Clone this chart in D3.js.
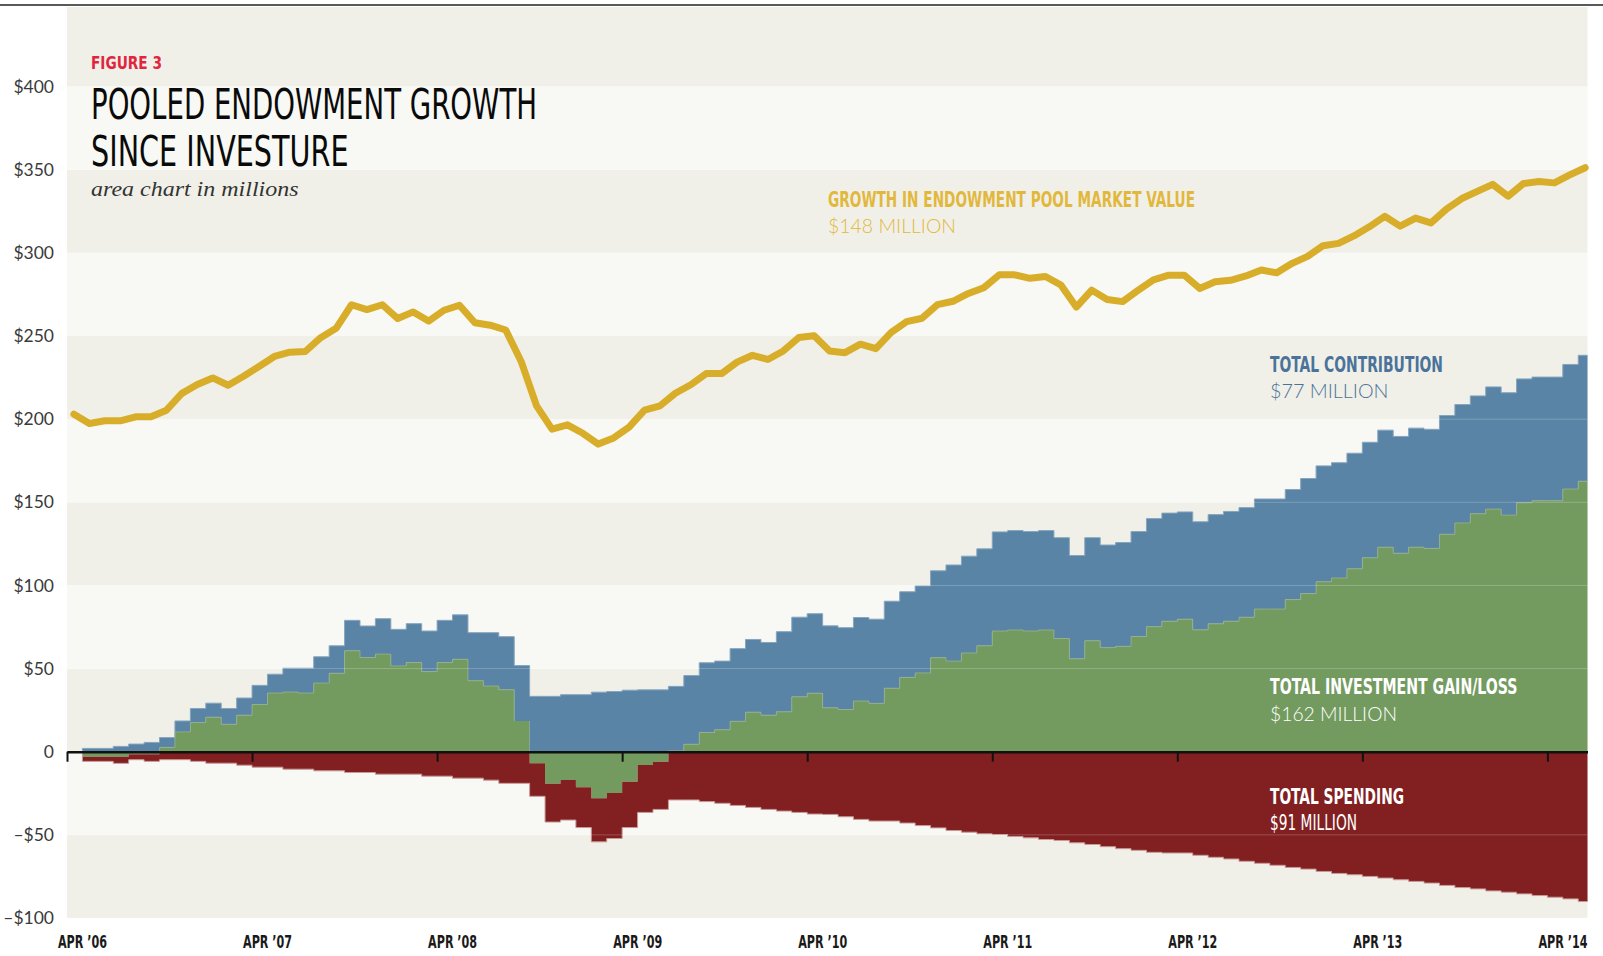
<!DOCTYPE html>
<html>
<head>
<meta charset="utf-8">
<script src="https://cdn.jsdelivr.net/npm/d3@7"></script>
<style>
  body { margin: 0; background: #fff; }
  svg { display: block; }
  .cond { font-family: 'Liberation Sans Narrow', 'DejaVu Sans Condensed', 'Arial Narrow', sans-serif; }
  .light { font-family: Lato, 'Open Sans', sans-serif; font-weight: 300; }
</style>
</head>
<body>
<div id="chart"></div>
<script>
// monthly values, May '06 = index 1 ... Jun '14 = index 98 (index 0 = Apr '06)
var marketValue = [203, 197.4, 199, 199, 201.4, 201.4, 205.4, 215.5, 220.8, 224.8,
  220.4, 225.8, 231.7, 237.7, 240.3, 240.7, 249, 254.6, 268.8, 265.9,
  268.8, 260.5, 264.5, 259, 265.5, 268.5, 258, 256.5, 253.6, 234.7,
  208, 194, 196.6, 191.5, 185, 188.7, 195.2, 205.4, 208, 215.6,
  220.7, 227.4, 227.4, 234.3, 238.4, 235.9, 241, 249.1, 250.2, 241,
  240, 245.1, 242.4, 252.2, 258.7, 260.7, 268.9, 270.9, 275.6, 279,
  286.8, 286.8, 284.7, 285.8, 280.7, 267.4, 277.6, 272, 270.7, 277.4,
  283.8, 286.6, 286.6, 278.6, 282.6, 283.5, 286.1, 289.7, 288, 293.7,
  297.9, 304.3, 305.7, 310.2, 315.7, 322, 316.1, 320.9, 318, 326.3,
  332.7, 337, 341.2, 334.1, 341.7, 342.9, 342.1, 346.9, 351.2]

var gain = [0, -3, -3, -3, -1.5, -1.5, 2.6, 11.9, 17.5, 20.8,
  16.5, 22, 28.4, 35.3, 35.9, 35.3, 41.3, 47.2, 60.7, 56.7,
  58.7, 51.6, 53.6, 48.2, 53.6, 55.6, 42.7, 39.5, 37.3, 18.5,
  -7, -19.2, -17, -21.4, -28, -24.8, -18.1, -8, -6, 0.5,
  4.5, 11.6, 13.2, 18.3, 23.8, 22, 24, 33, 35.2, 26.4,
  25.4, 30.5, 29.1, 38.2, 44.7, 47.4, 56.5, 54.5, 59.4, 63.7,
  72.6, 73.2, 72.6, 73.2, 68.1, 55.9, 66.7, 62.6, 63.4, 69.3,
  75.2, 78.5, 79.7, 73.3, 76.9, 78.5, 80.9, 85.8, 85.8, 91.5,
  95.1, 102.2, 104.5, 110, 116.6, 123, 119.4, 123, 122.3, 130.8,
  137.6, 143.1, 145.9, 142.3, 149.7, 150.9, 150.9, 158, 162.7]

var contribution = [0, 2, 2, 3.2, 4.6, 5.6, 5.9, 6.6, 8.5, 8.4,
  9.5, 10.3, 11.5, 11.3, 14.3, 14.9, 15.8, 16.5, 18.3, 18.9,
  21.3, 22, 23.4, 24.4, 25.4, 26.7, 28.9, 32.1, 31.9, 33.3,
  33.3, 33.3, 34.3, 34.3, 35.8, 36.2, 37, 37.2, 37.2, 38.8,
  41.3, 41.9, 41.3, 43.7, 43.7, 43.7, 48.2, 47.9, 47.8, 49.3,
  49.2, 50.2, 50.6, 52.3, 51.5, 52.3, 52.3, 57.8, 58.2, 58.3,
  59.6, 59.8, 59.8, 59.8, 60.6, 62.1, 62, 61.7, 62.4, 63.1,
  65, 65, 64.5, 65, 65.7, 66, 65.9, 66.2, 66.2, 66.2,
  69.2, 69.7, 69.3, 69.5, 69.5, 70.4, 70.2, 71.6, 71.6, 71.4,
  71.2, 70.9, 73.5, 73.6, 74.5, 74.4, 74.4, 74.9, 75.7]

var spending = [0, 2.8, 2.8, 4, 3.3, 4.3, 4.8, 4.8, 5.8, 6.9,
  6.9, 8.1, 9.3, 9.3, 10.5, 10.5, 11.5, 11.5, 12.5, 12.5,
  13.5, 13.5, 13.5, 14.7, 14.7, 15.9, 15.9, 17.1, 19, 19,
  19.8, 23.1, 24.1, 24.2, 26.2, 27.4, 27.5, 28.5, 28.7, 29,
  29, 30, 31, 32.3, 33.5, 34.7, 35.7, 36.5, 37.5, 37.7,
  39.1, 40.7, 41.7, 41.7, 42.9, 44.4, 45.8, 47.4, 48.4, 49.4,
  49.8, 51, 51.8, 52.8, 53.4, 54.8, 55.8, 57.1, 58.3, 59.3,
  60.5, 60.9, 60.9, 62.3, 63.5, 64.5, 65.9, 67.1, 68.3, 69.6,
  70.6, 72, 73.2, 74, 75, 76, 77, 78, 79, 80.4,
  81.7, 82.5, 83.7, 84.5, 85.5, 86.5, 87.5, 88.5, 90.1]

var yTicks = [-100, -50, 0, 50, 100, 150, 200, 250, 300, 350, 400]
var yTickLabels = ['–$100', '–$50', '0', '$50', '$100', '$150', '$200', '$250', '$300', '$350', '$400']
var xTicks = [0, 12, 24, 36, 48, 60, 72, 84, 96]
var xTickLabels = ['APR ’06', 'APR ’07', 'APR ’08', 'APR ’09', 'APR ’10', 'APR ’11', 'APR ’12', 'APR ’13', 'APR ’14']

var w = 1603
var h = 956
var plotTop = 7

var x = d3.scaleLinear().domain([0, 98.6]).range([67, 1587.5])
var y = d3.scaleLinear().domain([-100, 400]).range([918, 86.6])

var svg = d3.select('#chart').append('svg')
  .attr('width', w)
  .attr('height', h)

// top rule
svg.append('line')
  .attr('x1', 0).attr('x2', w)
  .attr('y1', 5).attr('y2', 5)
  .attr('stroke', '#222')
  .attr('stroke-width', 1.5)

// alternating bands
yTicks.forEach(function(v, i) {
  var top = Math.max(y(v + 50), plotTop)
  svg.append('rect')
    .attr('x', x.range()[0])
    .attr('y', top)
    .attr('width', x.range()[1] - x.range()[0])
    .attr('height', y(v) - top)
    .attr('fill', i % 2 == 0 ? '#f0f0e8' : '#f8f8f4')
})

var rows = gain.map(function(g, i) {
  var pos = Math.max(g, 0)
  var neg = Math.min(g, 0)
  return { m: i, g: g, b0: pos, b1: pos + contribution[i], r0: neg, r1: neg - spending[i] }
})
rows.push(Object.assign({}, rows[rows.length - 1], { m: x.domain()[1] }))

function stepArea(lo, hi) {
  return d3.area()
    .curve(d3.curveStepAfter)
    .x(function(d) { return x(d.m) })
    .y0(function(d) { return y(lo == null ? 0 : d[lo]) })
    .y1(function(d) { return y(d[hi]) })
}

function stepLine(key) {
  return d3.line()
    .curve(d3.curveStepAfter)
    .x(function(d) { return x(d.m) })
    .y(function(d) { return y(d[key]) })
}

svg.append('path').attr('d', stepArea(null, 'g')(rows)).attr('fill', '#739b60')
svg.append('path').attr('d', stepArea('b0', 'b1')(rows)).attr('fill', '#5984a6')
svg.append('path').attr('d', stepArea('r0', 'r1')(rows)).attr('fill', '#821f21')

svg.append('path').attr('d', stepLine('b1')(rows))
  .attr('fill', 'none').attr('stroke', '#86a5bf').attr('stroke-width', 1)
svg.append('path')
  .attr('d', stepLine('g').defined(function(d) { return d.g > 0 })(rows))
  .attr('fill', 'none').attr('stroke', '#98b28a').attr('stroke-width', 1).attr('opacity', 0.8)
svg.append('path').attr('d', stepLine('r1')(rows))
  .attr('fill', 'none').attr('stroke', '#c89a98').attr('stroke-width', 1)

// faint gridlines over the areas
yTicks.filter(function(v) { return v != 0 }).forEach(function(v) {
  svg.append('line')
    .attr('x1', x.range()[0]).attr('x2', x.range()[1])
    .attr('y1', y(v)).attr('y2', y(v))
    .attr('stroke', '#fff')
    .attr('stroke-opacity', 0.22)
})

// y axis labels
var yAxis = svg.append('g')
  .attr('transform', 'translate(' + x.range()[0] + ',0)')
  .call(d3.axisLeft(y).tickValues(yTicks).tickSize(0).tickPadding(13)
    .tickFormat(function(d, i) { return yTickLabels[i] }))
yAxis.select('.domain').remove()
yAxis.selectAll('text')
  .attr('font-family', "Lato, 'Open Sans', sans-serif")
  .attr('font-size', 17.5)
  .attr('fill', '#3a3a3a')

// zero axis with april ticks
var xAxis = svg.append('g')
  .attr('transform', 'translate(0,' + y(0) + ')')
  .call(d3.axisBottom(x).tickValues(xTicks).tickSize(10).tickSizeOuter(0)
    .tickFormat(function(d, i) { return xTickLabels[i] }))
xAxis.select('.domain').attr('stroke', '#111').attr('stroke-width', 2.5)
xAxis.selectAll('.tick line').attr('stroke', '#111').attr('stroke-width', 2)
xAxis.selectAll('text')
  .attr('class', 'cond')
  .attr('font-weight', 'bold')
  .attr('font-size', 17)
  .attr('fill', '#1a1a1a')
  .attr('x', 15)
  .attr('y', 196)
  .attr('dy', 0)
  .attr('textLength', 49)
  .attr('lengthAdjust', 'spacingAndGlyphs')

// market value line
var valueLine = d3.line()
  .x(function(d, i) { return x(i + 0.45) })
  .y(function(d) { return y(d) })

svg.append('path')
  .attr('d', valueLine(marketValue))
  .attr('fill', 'none')
  .attr('stroke', '#d8ad29')
  .attr('stroke-width', 7)
  .attr('stroke-linejoin', 'round')
  .attr('stroke-linecap', 'round')

function label(txt, px, py, cls, size, fill, len, extra) {
  var t = svg.append('text')
    .attr('class', cls)
    .attr('x', px)
    .attr('y', py)
    .attr('font-size', size)
    .attr('fill', fill)
    .attr('textLength', len)
    .attr('lengthAdjust', 'spacingAndGlyphs')
    .text(txt)
  if (extra) extra(t)
  return t
}

function bold(t) { t.attr('font-weight', 'bold') }

// title block
label('FIGURE 3', 91, 69, 'cond', 17, '#e0263f', 71, bold)
label('POOLED ENDOWMENT GROWTH', 91, 118.5, 'cond', 42, '#0a0a0a', 446)
label('SINCE INVESTURE', 91, 165.5, 'cond', 42, '#0a0a0a', 257.5)
label('area chart in millions', 91, 196, '', 22, '#333', 207.5, function(t) {
  t.attr('font-family', "'Liberation Serif', 'DejaVu Serif', serif").attr('font-style', 'italic')
})

// series labels
label('GROWTH IN ENDOWMENT POOL MARKET VALUE', 828, 206.5, 'cond', 21, '#e2b83c', 367, bold)
label('$148 MILLION', 828, 233, 'light', 20, '#e2b83c', 128)
label('TOTAL CONTRIBUTION', 1270, 371.5, 'cond', 21, '#4b739a', 173, bold)
label('$77 MILLION', 1270, 398, 'light', 20, '#4b739a', 118.5)
label('TOTAL INVESTMENT GAIN/LOSS', 1270, 693.5, 'cond', 21, '#fff', 247.5, bold)
label('$162 MILLION', 1270, 720.5, 'light', 20, '#fff', 127)
label('TOTAL SPENDING', 1270, 803.5, 'cond', 21, '#fff', 134, bold)
label('$91 MILLION', 1270, 830, 'cond', 21, '#fff', 87)
</script>
</body>
</html>
